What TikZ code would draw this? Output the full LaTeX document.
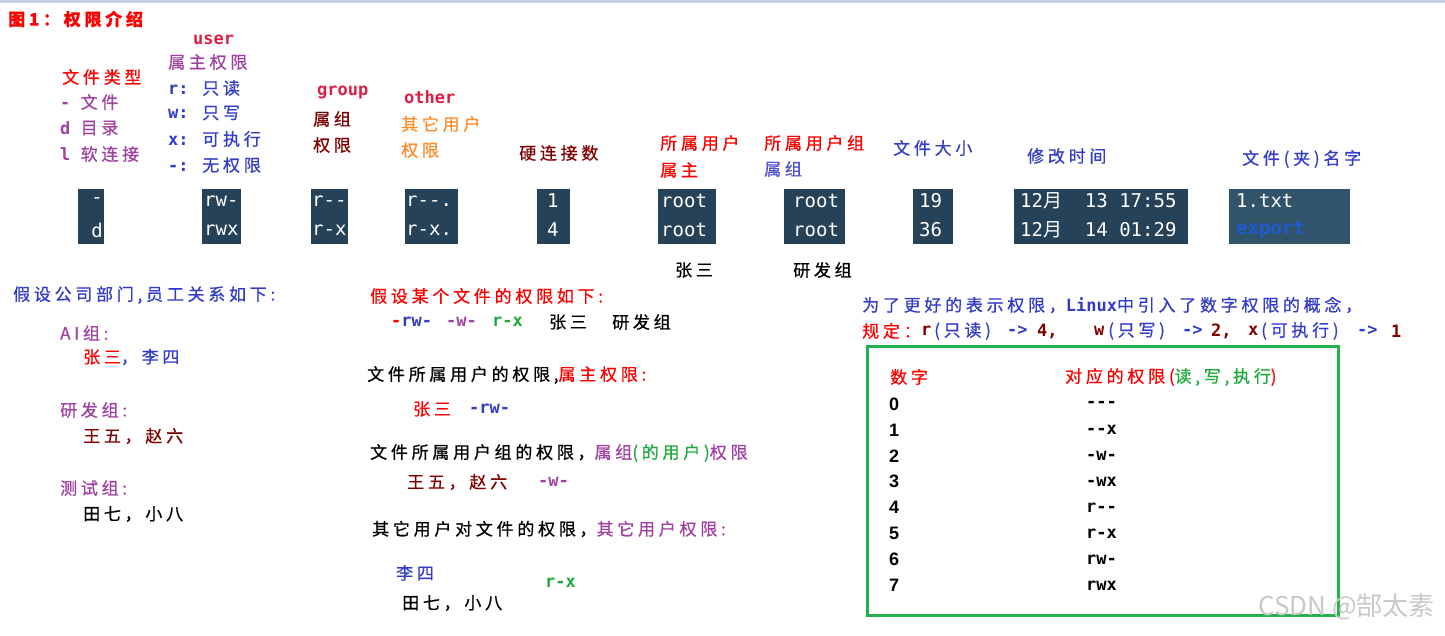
\documentclass[tikz,border=0pt]{standalone}
\usepackage{fontspec}
\setmainfont{Noto Sans CJK SC}
\newfontfamily\zhfam{Noto Sans CJK SC}[LetterSpace=22,FakeBold=0.6]
\newfontfamily\monofam{DejaVu Sans Mono}
\newfontfamily\sansfam{Liberation Sans}
\newfontfamily\wmfam{Noto Sans CJK SC}
\newcommand{\zhf}{\zhfam\fontsize{17}{20}\selectfont}
\newcommand{\mof}{\monofam\bfseries\fontsize{17}{20}\selectfont}
\newcommand{\tmf}{\monofam\fontsize{19}{22}\selectfont}
\newcommand{\sff}{\sansfam\bfseries\fontsize{18}{20}\selectfont}
\newcommand{\mo}[1]{{\mof #1}}
\definecolor{crim}{RGB}{222,30,70}
\definecolor{purp}{RGB}{160,64,160}
\definecolor{blu}{RGB}{50,60,200}
\definecolor{bpurp}{RGB}{80,80,210}
\definecolor{dred}{RGB}{128,0,0}
\definecolor{orng}{RGB}{255,140,40}
\definecolor{grn}{RGB}{30,170,60}
\definecolor{boxgreen}{RGB}{34,177,76}
\definecolor{termbg}{RGB}{38,66,88}
\definecolor{termbg2}{RGB}{50,84,106}
\definecolor{exportblue}{RGB}{30,90,210}
\definecolor{topbar}{RGB}{200,208,225}
\definecolor{wmgray}{RGB}{200,200,200}
\tikzset{
  txt/.style={anchor=west, inner sep=0pt, font=\zhf},
  tbox/.style={fill=termbg, inner sep=0pt, anchor=north west, minimum height=55pt},
  tt/.style={anchor=west, inner sep=0pt, text=white, font=\tmf},
  num/.style={anchor=west, inner sep=0pt, font=\sff},
  perm/.style={anchor=west, inner sep=0pt, font=\mof},
}
\begin{document}
\begin{tikzpicture}[x=1pt,y=-1pt]
\useasboundingbox (0,0) rectangle (1445,635);
\fill[topbar] (0,0) rectangle (1445,3);
% title
\node[txt, text=red, font=\zhf\bfseries] (title) at (8,19) {图1：权限介绍};
% header labels
\node[txt, text=crim, font=\mof] (user) at (193,40) {user};
\node[txt, text=purp] (ownerperm) at (168,62) {属主权限};
\node[txt, text=blu] (rr) at (168,88) {\mo{r: }只读};
\node[txt, text=blu] (ww) at (168,113) {\mo{w: }只写};
\node[txt, text=blu] (xx) at (168,139) {\mo{x: }可执行};
\node[txt, text=blu] (nn) at (168,165) {\mo{-: }无权限};
\node[txt, text=red] (ftype) at (62,77) {文件类型};
\node[txt, text=purp] (tf) at (60,102) {\mo{- }文件};
\node[txt, text=purp] (td) at (60,128) {\mo{d }目录};
\node[txt, text=purp] (tl) at (60,154) {\mo{l }软连接};
\node[txt, text=crim, font=\mof] (group) at (317,92) {group};
\node[txt, text=dred] (g1) at (313,119) {属组};
\node[txt, text=dred] (g2) at (313,145) {权限};
\node[txt, text=crim, font=\mof] (other) at (404,97) {other};
\node[txt, text=orng] (o1) at (401,124) {其它用户};
\node[txt, text=orng] (o2) at (401,150) {权限};
\node[txt, text=dred] (links) at (519,153) {硬连接数};
\node[txt, text=red] (ou1) at (660,143) {所属用户};
\node[txt, text=red] (ou2) at (660,170) {属主};
\node[txt, text=red] (og1) at (764,143) {所属用户组};
\node[txt, text=bpurp] (og2) at (764,169) {属组};
\node[txt, text=blu] (fsize) at (893,148) {文件大小};
\node[txt, text=blu] (mtime) at (1027,156) {修改时间};
\node[txt, text=blu] (fname) at (1242,159) {文件(夹)名字};
% terminal boxes
\node[tbox, minimum width=26pt] (b1) at (78,189) {};
\node[tbox, minimum width=39pt] (b2) at (202,189) {};
\node[tbox, minimum width=37pt] (b3) at (311,189) {};
\node[tbox, minimum width=53pt] (b4) at (405,189) {};
\node[tbox, minimum width=33pt] (b5) at (537,189) {};
\node[tbox, minimum width=58pt] (b6) at (658,189) {};
\node[tbox, minimum width=61pt] (b7) at (784,189) {};
\node[tbox, minimum width=40pt] (b8) at (913,189) {};
\node[tbox, minimum width=174pt] (b9) at (1014,189) {};
\node[tbox, fill=termbg2, minimum width=121pt] (b10) at (1229,189) {};
\node[tt, anchor=east] (t1a) at (103,201) {-};
\node[tt, anchor=east] (t1b) at (103,230) {d};
\node[tt] (t2a) at (204,201) {rw-};
\node[tt] (t2b) at (204,230) {rwx};
\node[tt] (t3a) at (312,201) {r--};
\node[tt] (t3b) at (312,230) {r-x};
\node[tt] (t4a) at (406,201) {r--.};
\node[tt] (t4b) at (406,230) {r-x.};
\node[tt] (t5a) at (547,201) {1};
\node[tt] (t5b) at (547,230) {4};
\node[tt] (t6a) at (661,201) {root};
\node[tt] (t6b) at (661,230) {root};
\node[tt] (t7a) at (793,201) {root};
\node[tt] (t7b) at (793,230) {root};
\node[tt] (t8a) at (919,201) {19};
\node[tt] (t8b) at (919,230) {36};
\node[tt] (t9a) at (1020,201) {12{\wmfam 月}\ \ 13 17:55};
\node[tt] (t9b) at (1020,230) {12{\wmfam 月}\ \ 14 01:29};
\node[tt] (t10a) at (1236,201) {1.txt};
\node[tt, text=exportblue, font=\tmf\bfseries] (t10b) at (1236,230) {export};
\node[txt, text=black] (zs) at (675,270) {张三};
\node[txt, text=black] (yfz) at (793,270) {研发组};
% bottom left
\node[txt, text=blu] (dept) at (13,295) {假设公司部门,员工关系如下:};
\node[txt, text=purp] (ai) at (60,333) {AI组:};
\node[txt, text=blu] (ai2) at (83,357) {\textcolor{red}{张三}，李四};
\node[txt, text=purp] (rd) at (60,410) {研发组:};
\node[txt, text=dred] (rd2) at (83,436) {王五，赵六};
\node[txt, text=purp] (qa) at (60,488) {测试组:};
\node[txt, text=black] (qa2) at (83,514) {田七，小八};
% middle
\node[txt, text=red] (m0) at (370,296) {假设某个文件的权限如下:};
\node[perm, text=blu] (p1) at (391,322) {\textcolor{red}{-}rw-};
\node[perm, text=purp] (p2) at (446,322) {-w-};
\node[perm, text=grn] (p3) at (492,322) {r-x};
\node[txt, text=black] (p4) at (549,322) {张三};
\node[txt, text=black] (p5) at (612,322) {研发组};
\node[txt, text=black] (m1) at (367,375) {文件所属用户的权限,\textcolor{red}{属主权限:}};
\node[txt, text=red] (m1a) at (413,409) {张三};
\node[perm, text=blu] (m1b) at (469,409) {-rw-};
\node[txt, text=black] (m2) at (370,453) {文件所属用户组的权限，\textcolor{purp}{属组}\textcolor{grn}{(的用户)}\textcolor{purp}{权限}};
\node[txt, text=dred] (m2a) at (407,482) {王五，赵六};
\node[perm, text=purp] (m2b) at (538,482) {-w-};
\node[txt, text=black] (m3) at (372,529) {其它用户对文件的权限，\textcolor{purp}{其它用户权限:}};
\node[txt, text=blu] (m3a) at (396,573) {李四};
\node[perm, text=grn] (m3b) at (545,583) {r-x};
\node[txt, text=black] (m3c) at (402,603) {田七，小八};
% right
\node[txt, text=blu] (r0) at (862,305) {为了更好的表示权限，\mo{Linux}中引入了数字权限的概念，};
\node[txt, text=red] (ra) at (862,331) {规定：};
\node[perm, text=dred] (rb) at (921,331) {r};
\node[txt, text=blu] (rc) at (934,331) {(只读)};
\node[perm, text=blu] (rd1) at (1007,331) {->};
\node[perm, text=dred] (re) at (1037,331) {4,};
\node[perm, text=dred] (rf) at (1094,331) {w};
\node[txt, text=blu] (rg) at (1108,331) {(只写)};
\node[perm, text=blu] (rh) at (1182,331) {->};
\node[perm, text=dred] (ri) at (1211,331) {2,};
\node[perm, text=dred] (rj) at (1248,331) {x};
\node[txt, text=blu] (rk) at (1261,331) {(可执行)};
\node[perm, text=blu] (rl) at (1357,331) {->};
\node[perm, text=dred] (rm) at (1391,331) {1};
\node[draw=boxgreen, line width=3pt, inner sep=0pt, anchor=north west, minimum width=471pt, minimum height=269pt] (tbl) at (866,345) {};
\node[txt, text=red] (h1) at (890,377) {数字};
\node[txt, text=red] (h2) at (1065,377) {对应的权限(\textcolor{grn}{读,写,执行})};
\foreach \d/\p [count=\i from 0] in {0/---,1/--x,2/-w-,3/-wx,4/r--,5/r-x,6/rw-,7/rwx}{
  \node[num] (d\i) at (889,{404+25.9*\i}) {\d};
  \node[perm] (q\i) at (1086,{404+25.9*\i}) {\p};
}
\node[anchor=west, inner sep=0pt, text=wmgray, font=\wmfam\fontsize{26}{28}\selectfont] (wm) at (1258,607) {CSDN @郜太素};
\end{tikzpicture}
\end{document}
